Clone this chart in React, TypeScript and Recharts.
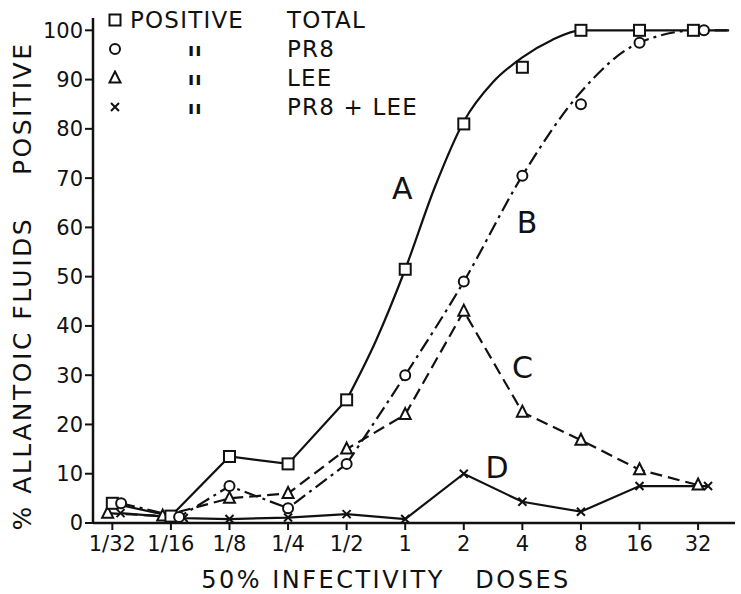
import {
  ComposedChart,
  Line,
  XAxis,
  YAxis,
  ReferenceDot,
} from 'recharts';

// dose on a log2 scale: -5 = 1/32 ... 5 = 32
const doses = [-5, -4, -3, -2, -1, 0, 1, 2, 3, 4, 5];
const doseLabels = ['1/32', '1/16', '1/8', '1/4', '1/2', '1', '2', '4', '8', '16', '32'];
const yTicks = [0, 10, 20, 30, 40, 50, 60, 70, 80, 90, 100];

// % allantoic fluids positive (the plotted symbols)
const totalPos = [4, 1.4, 13.5, 12, 25, 51.5, 81, 92.5, 100, 100, 100];
const pr8Pos = [4, 1.2, 7.5, 3, 12, 30, 49, 70.5, 85, 97.5, 100];
const leePos = [2, 1.4, 5, 6, 15, 22, 43, 22.5, 16.8, 10.8, 7.7];
const bothPos = [2, 1, 0.8, 1.1, 1.8, 0.8, 10, 4.3, 2.3, 7.5, 7.5];

// small sideways offsets of overlapping symbols in the original
const totalShift = [0, 0, 0, 0, 0, 0, 0, 0, 0, 0, -0.08];
const pr8Shift = [0.15, 0.14, 0, 0, 0, 0, 0, 0, 0, 0, 0.1];
const leeShift = [-0.08, -0.14, 0, 0, 0, 0, 0, 0, 0, 0, 0];
const bothShift = [0.14, 0.22, 0, 0, 0, 0, 0, 0, 0, 0, 0.17];

// hand-drawn smooth curves A and B (from 1/2 upward)
const curveAX = [-1, -0.5, 0, 0.5, 1, 1.5, 2, 2.5, 3, 4, 5, 5.53];
const curveAY = [25, 37, 51.5, 68, 81.5, 89.5, 94.5, 98, 100, 100, 100, 100];
const curveBX = [-1, 0, 1, 2, 3, 4, 5, 5.5];
const curveBY = [12, 30, 49, 70.5, 87.5, 97.5, 100, 100];

const curveLabels = [
  { name: 'A', x: -0.05, y: 68 },
  { name: 'B', x: 2.08, y: 61 },
  { name: 'C', x: 2.0, y: 31.6 },
  { name: 'D', x: 1.57, y: 11.2 },
];

const legendRows = [
  { shape: 'square', first: 'POSITIVE', name: 'TOTAL' },
  { shape: 'circle', first: 'ıı', name: 'PR8' },
  { shape: 'triangle', first: 'ıı', name: 'LEE' },
  { shape: 'cross', first: 'ıı', name: 'PR8 + LEE' },
];

const INK = '#111';
const FONT = 'DejaVu Sans, sans-serif';

const toPoints = (vals: number[], shift: number[], from = 0, to = vals.length - 1) =>
  vals.slice(from, to + 1).map((v, i) => ({ x: doses[from + i] + shift[from + i], y: v }));

const zipXY = (xs: number[], ys: number[]) => xs.map((x, i) => ({ x, y: ys[i] }));

const totalMarks = toPoints(totalPos, totalShift);
const totalLeft = toPoints(totalPos, totalShift, 0, 4);
const curveA = zipXY(curveAX, curveAY);
const pr8Marks = toPoints(pr8Pos, pr8Shift);
const pr8Left = toPoints(pr8Pos, pr8Shift, 0, 4);
const curveB = zipXY(curveBX, curveBY);
const leePts = toPoints(leePos, leeShift);
const bothPts = toPoints(bothPos, bothShift);

const Symbol = ({ shape, cx, cy }: { shape: string; cx: number; cy: number }) => {
  const common = { fill: '#fff', stroke: INK, strokeWidth: 2 };
  if (shape === 'square') return <rect x={cx - 5.5} y={cy - 5.5} width={11} height={11} {...common} />;
  if (shape === 'circle') return <circle cx={cx} cy={cy} r={5} {...common} />;
  if (shape === 'triangle')
    return <path d={`M${cx},${cy - 6.5}L${cx + 5.5},${cy + 4.5}L${cx - 5.5},${cy + 4.5}Z`} {...common} />;
  return (
    <path
      d={`M${cx - 4},${cy - 4}L${cx + 4},${cy + 4}M${cx + 4},${cy - 4}L${cx - 4},${cy + 4}`}
      stroke={INK}
      strokeWidth={2}
      fill="none"
    />
  );
};

const makeDot = (shape: string, id: string) => (props: any) => {
  const { cx, cy, index } = props;
  const key = `${id}-${index}`;
  if (cx == null || cy == null) return <g key={key} />;
  return (
    <g key={key}>
      <Symbol shape={shape} cx={cx} cy={cy} />
    </g>
  );
};

const tickStyle = { fontFamily: FONT, fontSize: 21, fill: INK };

const lineProps = {
  dataKey: 'y',
  stroke: INK,
  strokeWidth: 2.2,
  activeDot: false as const,
  isAnimationActive: false,
  legendType: 'none' as const,
};

export default function App() {
  return (
    <div style={{ position: 'absolute', left: 0, top: 0, width: 741, height: 594, background: '#fff' }}>
      <ComposedChart width={741} height={594} margin={{ top: 18, right: 6, bottom: 0, left: 33 }}>
        <XAxis
          dataKey="x"
          type="number"
          domain={[-5.33, 5.63]}
          ticks={doses}
          tickFormatter={(v: number) => doseLabels[doses.indexOf(v)] ?? ''}
          tick={tickStyle}
          tickSize={7}
          tickMargin={6}
          height={71}
          allowDataOverflow
          axisLine={{ stroke: INK, strokeWidth: 2.5 }}
          tickLine={{ stroke: INK, strokeWidth: 2 }}
          interval={0}
        />
        <YAxis
          type="number"
          domain={[0, 102.5]}
          ticks={yTicks}
          tick={tickStyle}
          tickSize={8}
          tickMargin={2}
          width={60}
          allowDataOverflow
          axisLine={{ stroke: INK, strokeWidth: 2.5 }}
          tickLine={{ stroke: INK, strokeWidth: 2 }}
          interval={0}
        />
        {/* connecting lines */}
        <Line {...lineProps} data={totalLeft} type="linear" dot={false} />
        <Line {...lineProps} data={curveA} type="monotone" dot={false} />
        <Line {...lineProps} data={pr8Left} type="linear" strokeDasharray="14 5 3 5" dot={false} />
        <Line {...lineProps} data={curveB} type="monotone" strokeDasharray="14 5 3 5" dot={false} />
        <Line {...lineProps} data={leePts} type="linear" strokeDasharray="12 6" dot={makeDot('triangle', 'c')} />
        <Line {...lineProps} data={bothPts} type="linear" dot={makeDot('cross', 'd')} />
        {/* symbols for A and B */}
        <Line {...lineProps} data={totalMarks} stroke="none" dot={makeDot('square', 'a')} />
        <Line {...lineProps} data={pr8Marks} stroke="none" dot={makeDot('circle', 'b')} />
        {curveLabels.map((l) => (
          <ReferenceDot
            key={l.name}
            x={l.x}
            y={l.y}
            r={0}
            fill="none"
            stroke="none"
            label={{ value: l.name, position: 'center', fill: INK, fontSize: 30, fontFamily: FONT }}
          />
        ))}
      </ComposedChart>

      {/* legend inside the plot, top left */}
      <div style={{ position: 'absolute', left: 105, top: 6, fontFamily: FONT, fontSize: 23, letterSpacing: 1.2, color: INK }}>
        {legendRows.map((r) => (
          <div key={r.name} style={{ position: 'relative', height: 29, lineHeight: '29px', width: 330 }}>
            <svg width={16} height={16} style={{ position: 'absolute', left: 2, top: 6 }}>
              <Symbol shape={r.shape} cx={8} cy={8} />
            </svg>
            <span
              style={{
                position: 'absolute',
                left: r.first === 'POSITIVE' ? 25 : 83,
                top: 0,
                fontWeight: r.first === 'POSITIVE' ? 400 : 700,
                fontSize: r.first === 'POSITIVE' ? 23 : 18,
              }}
            >
              {r.first}
            </span>
            <span style={{ position: 'absolute', left: 182, top: 0, whiteSpace: 'pre' }}>{r.name}</span>
          </div>
        ))}
      </div>

      {/* y axis title */}
      <div
        style={{
          position: 'absolute',
          left: 23,
          top: 286,
          transform: 'translate(-50%, -50%) rotate(-90deg)',
          fontFamily: FONT,
          fontSize: 25,
          letterSpacing: 2.5,
          lineHeight: '28px',
          color: INK,
          whiteSpace: 'pre',
        }}
      >
        {'% ALLANTOIC FLUIDS    POSITIVE'}
      </div>

      {/* x axis title */}
      <div
        style={{
          position: 'absolute',
          left: 386,
          top: 580,
          transform: 'translate(-50%, -50%)',
          fontFamily: FONT,
          fontSize: 24,
          letterSpacing: 2.5,
          lineHeight: '28px',
          color: INK,
          whiteSpace: 'pre',
        }}
      >
        {'50% INFECTIVITY   DOSES'}
      </div>
    </div>
  );
}
